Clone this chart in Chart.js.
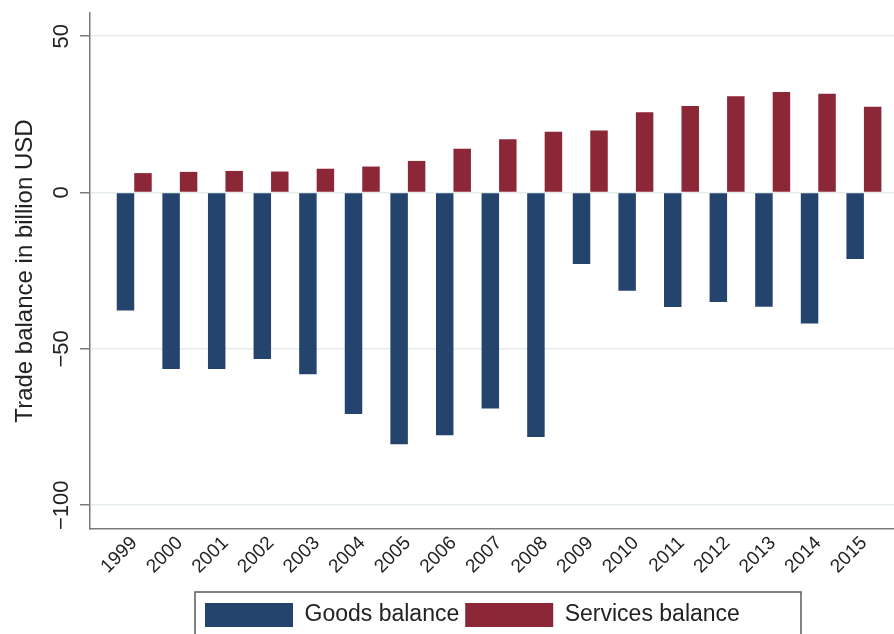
<!DOCTYPE html>
<html><head><meta charset="utf-8">
<script src="https://cdn.jsdelivr.net/npm/chart.js@4/dist/chart.umd.min.js"></script>
<style>html,body{margin:0;padding:0;background:#fff}</style>
</head><body>
<canvas id="c" width="894" height="634"></canvas>
<script>
const years = [1999,2000,2001,2002,2003,2004,2005,2006,2007,2008,2009,2010,2011,2012,2013,2014,2015];
const goodsBalance = [-37.7,-56.4,-56.4,-53.2,-58.1,-70.8,-80.5,-77.6,-69.1,-78.2,-22.9,-31.4,-36.6,-35.0,-36.5,-41.9,-21.3];
const servicesBalance = [6.2,6.6,6.9,6.7,7.6,8.3,10.1,14.0,17.0,19.4,19.8,25.7,27.7,30.8,32.1,31.6,27.4];
const yTicks = [-100,-50,0,50];
const seriesNames = ['Goods balance','Services balance'];
const yTitle = 'Trade balance in billion USD';

const FONT = "'Liberation Sans', Arial, sans-serif";
const AXIS = '#7a7a7a';

const legendFrame = {
  id: 'legendFrame',
  afterLayout(chart) {
    const lg = chart.legend;
    const w = lg.width;
    lg.left = chart.chartArea.left + 109;
    lg.right = lg.left + w;
  },
  afterDraw(chart) {
    const lg = chart.legend;
    const ctx = chart.ctx;
    ctx.save();
    ctx.strokeStyle = '#5a5a5a';
    ctx.lineWidth = 1.5;
    ctx.strokeRect(lg.left - 4, lg.top - 5, 606, 70);
    ctx.restore();
  }
};

new Chart(document.getElementById('c'), {
  type: 'bar',
  data: {
    labels: years,
    datasets: [
      { label: seriesNames[0], data: goodsBalance, backgroundColor: '#25446d', borderWidth: 0,
        categoryPercentage: 0.767, barPercentage: 1.0 },
      { label: seriesNames[1], data: servicesBalance, backgroundColor: '#8c2737', borderWidth: 0,
        categoryPercentage: 0.767, barPercentage: 1.0 }
    ]
  },
  options: {
    responsive: false,
    animation: false,
    devicePixelRatio: 1,
    layout: { padding: { top: 13, right: 0, bottom: -3, left: 0 } },
    plugins: {
      legend: {
        position: 'bottom', align: 'start',
        labels: { boxWidth: 88, boxHeight: 24, padding: 6, color: '#222',
                  font: { family: FONT, size: 23 } }
      },
      tooltip: { enabled: false }
    },
    scales: {
      x: {
        type: 'linear', min: 1998.03, max: 2015.66, offset: false,
        grid: { display: false },
        border: { display: true, color: AXIS, width: 1.5 },
        afterBuildTicks: s => { s.ticks = years.map(v => ({ value: v })); },
        afterFit: s => { s.height = 68; },
        ticks: { autoSkip: false, minRotation: 45, maxRotation: 45, padding: -5, color: '#222',
                 font: { family: FONT, size: 19 }, callback: v => String(v) }
      },
      y: {
        min: -107.6, max: 57.4,
        afterBuildTicks: s => { s.ticks = yTicks.map(v => ({ value: v })); },
        afterFit: s => { s.width = 90; },
        grid: { color: '#e4ecec', lineWidth: 1.5, drawTicks: true, tickLength: 10, tickColor: AXIS, tickWidth: 1.5 },
        border: { display: true, color: AXIS, width: 1.5 },
        ticks: { minRotation: 90, maxRotation: 90, crossAlign: 'center', padding: -7, color: '#222',
                 font: { family: FONT, size: 22 }, callback: v => String(v).replace('-', '\u2212') },
        title: { display: true, text: yTitle, color: '#222', font: { family: FONT, size: 24 },
                 padding: { top: 11, bottom: 0 } }
      }
    }
  },
  plugins: [legendFrame]
});
</script>
</body></html>
